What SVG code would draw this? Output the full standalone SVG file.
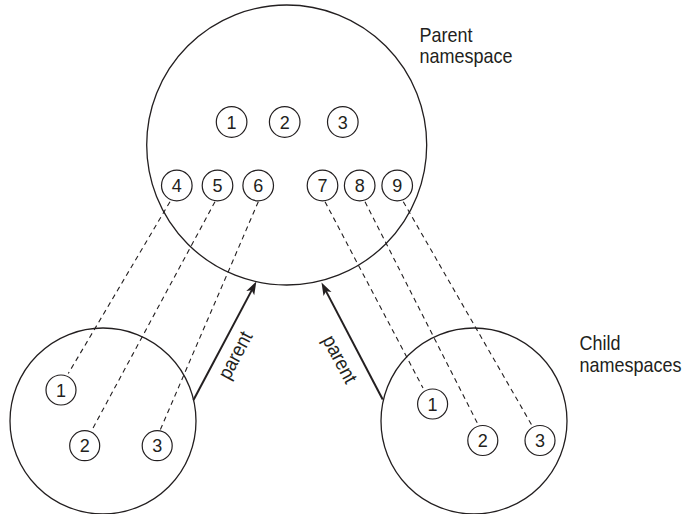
<svg xmlns="http://www.w3.org/2000/svg" width="684" height="514" viewBox="0 0 684 514">
<style>
.ns{fill:none;stroke:#231f20;stroke-width:1.3}
.it{fill:#fff;stroke:#231f20;stroke-width:1.2}
.num{font-family:"Liberation Sans",Arial,sans-serif;font-size:18px;fill:#231f20;text-anchor:middle}
.lbl{font-family:"Liberation Sans",Arial,sans-serif;font-size:20px;fill:#231f20}
.dash{fill:none;stroke:#231f20;stroke-width:1.1;stroke-dasharray:5 4}
.arr{fill:none;stroke:#231f20;stroke-width:2;marker-end:url(#ah)}
</style>
<defs>
<marker id="ah" viewBox="-1 -6 16 12" markerWidth="16" markerHeight="12" refX="5" refY="0" orient="auto" markerUnits="userSpaceOnUse">
<path d="M0,-4.5 L13,0 L0,4.5 L3,0 Z" fill="#231f20"/>
</marker>
</defs>
<rect width="684" height="514" fill="#fff"/>
<g id="connectors">
<line class="dash" x1="170" y1="201.7" x2="68.3" y2="373.5"/>
<line class="dash" x1="215" y1="201.7" x2="91.7" y2="430.5"/>
<line class="dash" x1="258.3" y1="201.7" x2="160" y2="430.5"/>
<line class="dash" x1="325" y1="201.7" x2="423" y2="388"/>
<line class="dash" x1="365" y1="201.7" x2="478.3" y2="425"/>
<line class="dash" x1="403.3" y1="201.7" x2="531.7" y2="425"/>
<line class="arr" x1="193.5" y1="400" x2="252.6" y2="288.6"/>
<line class="arr" x1="382.7" y1="399.5" x2="325.2" y2="289.6"/>
<text class="lbl" text-anchor="middle" transform="translate(236.7,356) rotate(-62) scale(0.9,1)" x="0" y="5">parent</text>
<text class="lbl" text-anchor="middle" transform="translate(338.5,360) rotate(62) scale(0.9,1)" x="0" y="5">parent</text>
</g>
<g id="parent-namespace">
<circle class="ns" cx="286.7" cy="145" r="140"/>
<text class="lbl" transform="translate(419.5,41.5) scale(0.9,1)">Parent</text>
<text class="lbl" transform="translate(419.5,63) scale(0.9,1)">namespace</text>
</g>
<g id="p1"><circle class="it" cx="231.6" cy="122" r="15.3"/><text class="num" x="231.6" y="128.5">1</text></g>
<g id="p2"><circle class="it" cx="284.7" cy="122" r="15.3"/><text class="num" x="284.7" y="128.5">2</text></g>
<g id="p3"><circle class="it" cx="342.8" cy="122" r="15.3"/><text class="num" x="342.8" y="128.5">3</text></g>
<g id="p4"><circle class="it" cx="176.8" cy="185.5" r="15.3"/><text class="num" x="176.8" y="192">4</text></g>
<g id="p5"><circle class="it" cx="217.5" cy="185.5" r="15.3"/><text class="num" x="217.5" y="192">5</text></g>
<g id="p6"><circle class="it" cx="258.2" cy="185.5" r="15.3"/><text class="num" x="258.2" y="192">6</text></g>
<g id="p7"><circle class="it" cx="322.5" cy="185.5" r="15.3"/><text class="num" x="322.5" y="192">7</text></g>
<g id="p8"><circle class="it" cx="359.7" cy="185.5" r="15.3"/><text class="num" x="359.7" y="192">8</text></g>
<g id="p9"><circle class="it" cx="397.2" cy="185.5" r="15.3"/><text class="num" x="397.2" y="192">9</text></g>
<g id="child-left">
<circle class="ns" cx="103" cy="421" r="93"/>
</g>
<g id="l1"><circle class="it" cx="61" cy="390" r="15"/><text class="num" x="61" y="396.5">1</text></g>
<g id="l2"><circle class="it" cx="84.7" cy="445.7" r="15"/><text class="num" x="84.7" y="452.2">2</text></g>
<g id="l3"><circle class="it" cx="157.2" cy="445.7" r="15"/><text class="num" x="157.2" y="452.2">3</text></g>
<g id="child-right">
<circle class="ns" cx="474" cy="421" r="93"/>
<text class="lbl" transform="translate(579.5,350) scale(0.9,1)">Child</text>
<text class="lbl" transform="translate(579.5,372) scale(0.9,1)">namespaces</text>
</g>
<g id="r1"><circle class="it" cx="432.6" cy="404" r="15"/><text class="num" x="432.6" y="410.5">1</text></g>
<g id="r2"><circle class="it" cx="482.8" cy="440.5" r="15"/><text class="num" x="482.8" y="447">2</text></g>
<g id="r3"><circle class="it" cx="540" cy="440.5" r="15"/><text class="num" x="540" y="447">3</text></g>
</svg>
